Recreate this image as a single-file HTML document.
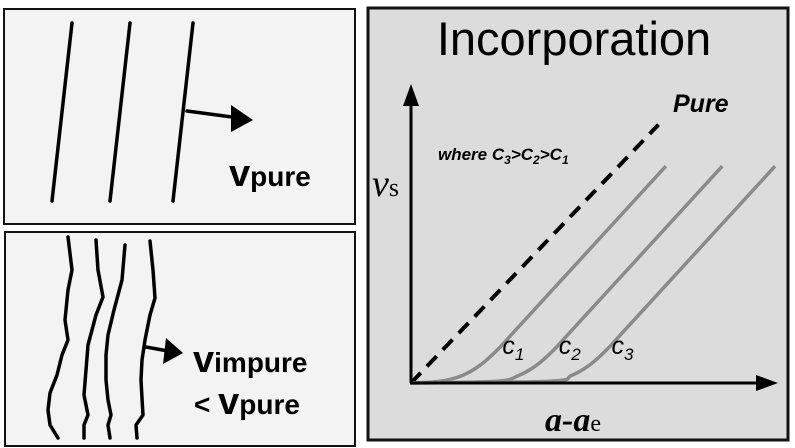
<!DOCTYPE html>
<html><head><meta charset="utf-8"><style>
body{margin:0;background:#fff;width:795px;height:448px;overflow:hidden}
svg{display:block}
</style></head><body>
<svg width="795" height="448" xmlns="http://www.w3.org/2000/svg">
<g>
<rect x="4" y="9" width="351" height="215" fill="#f3f3f3" stroke="#111" stroke-width="2"/>
<g stroke="#000" stroke-width="3.5" stroke-linecap="round">
<line x1="72" y1="23" x2="52" y2="201"/>
<line x1="130" y1="23" x2="110" y2="201"/>
<line x1="193" y1="23" x2="173" y2="201"/>
<line x1="187" y1="111" x2="232" y2="117"/>
</g>
<path d="M231,105 L253,120 L231,132 Z" fill="#000"/>
<text x="229" y="186" font-family="Liberation Sans, sans-serif" font-weight="bold" font-size="38">v<tspan font-size="28">pure</tspan></text>
</g>
<g>
<rect x="5" y="232" width="350" height="214" fill="#f3f3f3" stroke="#111" stroke-width="2"/>
<g fill="none" stroke="#000" stroke-width="3.5" stroke-linejoin="round" stroke-linecap="round">
<polyline points="68,237 72,270 68,290 65,320 68,340 62,355 57,375 50,393 48,410 50,425 58,438"/>
<polyline points="96,240 98,270 103,297 96,315 88,345 86,370 84,395 88,415 84,425 84,438"/>
<polyline points="125,245 122,280 114,310 108,335 106,355 106,380 108,400 111,415 108,425 110,438"/>
<polyline points="150,241 153,270 155,298 150,315 145,340 142,360 141,380 142,398 143,415 136,425 137,438"/>
<line x1="146" y1="347" x2="168" y2="351"/>
</g>
<path d="M166,338 L183,353 L163,364 Z" fill="#000"/>
<text x="193" y="372" font-family="Liberation Sans, sans-serif" font-weight="bold" font-size="38">v<tspan font-size="28">impure</tspan></text>
<text x="194" y="414" font-family="Liberation Sans, sans-serif" font-weight="bold" font-size="28">&lt; <tspan font-size="38">v</tspan>pure</text>
</g>
<g>
<rect x="368" y="8" width="420" height="432" fill="#dcdcdc" stroke="#111" stroke-width="3"/>
<text x="574" y="55" text-anchor="middle" font-family="Liberation Sans, sans-serif" font-size="47">Incorporation</text>
<g id="plot"></g>
<line x1="411" y1="383" x2="411" y2="100" stroke="#000" stroke-width="3"/>
<path d="M403,106 L411,84 L419,106 Z" fill="#000"/>
<line x1="410" y1="383" x2="760" y2="383" stroke="#000" stroke-width="3"/>
<path d="M756,375 L778,383 L756,391 Z" fill="#000"/>
<text x="673" y="112" font-family="Liberation Sans, sans-serif" font-weight="bold" font-style="italic" font-size="25">Pure</text>
<text x="438" y="160" font-family="Liberation Sans, sans-serif" font-weight="bold" font-style="italic" font-size="17">where C<tspan font-size="12" dy="4">3</tspan><tspan dy="-4">&gt;C</tspan><tspan font-size="12" dy="4">2</tspan><tspan dy="-4">&gt;C</tspan><tspan font-size="12" dy="4">1</tspan></text>
<text x="372" y="196" font-family="Liberation Serif, serif" font-style="italic" font-size="38">v<tspan font-style="normal" font-size="26">s</tspan></text>
<text x="545" y="431" font-family="Liberation Serif, serif" font-weight="bold" font-style="italic" font-size="34">a-a<tspan font-weight="normal" font-style="normal" font-size="24">e</tspan></text>
</g>
</svg>
<script>
const pureX = [0, 68];
const pureY = [0, 87];
const c1X = [0, 8, 14, 19, 24, 30, 70];
const c1Y = [0, 0.6, 2.5, 6, 11.5, 19.5, 73];
const c2X = [0, 23.5, 29.5, 34.5, 39.5, 45.5, 85.5];
const c2Y = [0, 0.6, 2.5, 6, 11.5, 19.5, 73];
const c3X = [0, 38, 44, 49, 54, 60, 100];
const c3Y = [0, 0.6, 2.5, 6, 11.5, 19.5, 73];
const curveLabels = ["C1", "C2", "C3"];
const xs = v => 411 + v * 3.64;
const ys = v => 383 - v * 2.97;
const NS = "http://www.w3.org/2000/svg";
const g = document.getElementById("plot");
function smooth(X, Y) {
  const p = X.map((x, i) => [xs(x), ys(Y[i])]);
  let d = "M" + p[0][0] + "," + p[0][1];
  for (let i = 0; i < p.length - 1; i++) {
    const p0 = p[Math.max(0, i - 1)], p1 = p[i], p2 = p[i + 1], p3 = p[Math.min(p.length - 1, i + 2)];
    const a = [p1[0] + (p2[0] - p0[0]) / 6, p1[1] + (p2[1] - p0[1]) / 6];
    const b = [p2[0] - (p3[0] - p1[0]) / 6, p2[1] - (p3[1] - p1[1]) / 6];
    d += " C" + a + " " + b + " " + p2;
  }
  return d;
}
const pure = document.createElementNS(NS, "path");
pure.setAttribute("d", "M" + xs(pureX[0]) + "," + ys(pureY[0]) + " L" + xs(pureX[1]) + "," + ys(pureY[1]));
pure.setAttribute("stroke", "#000"); pure.setAttribute("stroke-width", "4");
pure.setAttribute("stroke-dasharray", "14,9"); pure.setAttribute("fill", "none");


g.appendChild(pure);
[[c1X, c1Y], [c2X, c2Y], [c3X, c3Y]].forEach((s, i) => {
  const p = document.createElementNS(NS, "path");
  p.setAttribute("d", smooth(s[0], s[1]));
  p.setAttribute("stroke", "#8a8a8a"); p.setAttribute("stroke-width", "3.5"); p.setAttribute("fill", "none");
  
  
  g.appendChild(p);
  const t = document.createElementNS(NS, "text");
  t.setAttribute("x", xs(s[0][4]) + 4);
  t.setAttribute("y", 354);
  t.setAttribute("font-family", "Liberation Sans, sans-serif");
  t.setAttribute("font-style", "italic"); t.setAttribute("font-size", "25");
  t.innerHTML = curveLabels[i].charAt(0).toLowerCase() + '<tspan font-size="17" dy="6">' + curveLabels[i].slice(1) + '</tspan>';
  
  
  g.appendChild(t);
});
</script>
</body></html>
